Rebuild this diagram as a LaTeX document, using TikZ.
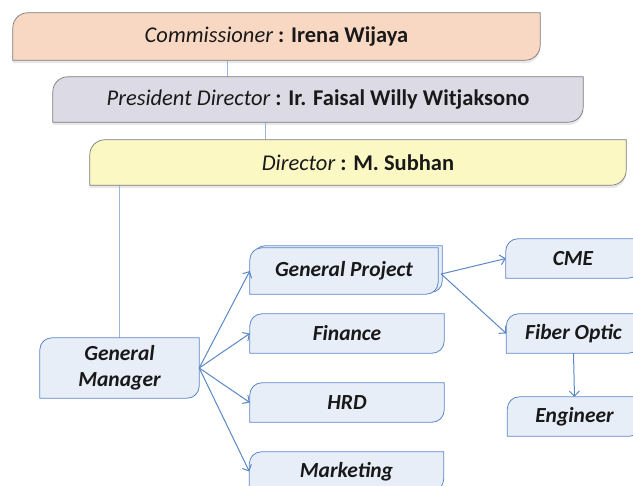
\documentclass[tikz,border=0pt]{standalone}
\usepackage{fontspec}
\setmainfont{Carlito}
\usetikzlibrary{arrows.meta,positioning,backgrounds}

\definecolor{commfill}{HTML}{F9D8C3}
\definecolor{presfill}{HTML}{DCDAE5}
\definecolor{dirfill}{HTML}{FBF8C4}
\definecolor{unitfill}{HTML}{E8EEF8}
\definecolor{unitline}{HTML}{5A87C6}
\definecolor{linkline}{HTML}{9BB7DD}
\definecolor{topline}{HTML}{7A7A7A}

\tikzset{
  headbox/.style={inner sep=0pt, font=\fontsize{22.5}{27}\selectfont, text=black!90},
  unitbox/.style={inner sep=0pt, align=center, font=\fontsize{21.5}{26.5}\selectfont\bfseries\itshape, text=black!90},
  link/.style={draw=linkline, line width=1pt},
  unitarrow/.style={draw=unitline, line width=1pt, -{Straight Barb[length=5pt,width=10pt]}}
}

% box with rounded top-left and bottom-right corners
\newcommand{\orgbox}[4]{%
  \path[#3, fill=#2] ([yshift=-#4]#1.north west) arc (180:90:#4) -- (#1.north east)
    -- ([yshift=#4]#1.south east) arc (0:-90:#4) -- (#1.south west) -- cycle;}

\begin{document}
\begin{tikzpicture}[x=1pt, y=-1pt]
\useasboundingbox (0,0) rectangle (633,486);

\node[headbox, minimum width=527pt, minimum height=47pt] (comm) at (276.5,36.5)
  {\itshape Commissioner \bfseries\upshape: Irena Wijaya};
\node[headbox, minimum width=530pt, minimum height=45pt] (pres) at (318,99.5)
  {\itshape President Director \bfseries\upshape: Ir. Faisal Willy Witjaksono};
\node[headbox, minimum width=536pt, minimum height=45pt] (dir) at (358,162.5)
  {\itshape Director \bfseries\upshape: M. Subhan};

\node[unitbox, minimum width=159pt, minimum height=60pt] (gm) at (119.5,368) {General\\Manager};
\node[unitbox, minimum width=188pt, minimum height=46pt] (gp) at (344,271) {General Project};
\node[unitbox, minimum width=194pt, minimum height=39pt] (fin) at (347,333.5) {Finance};
\node[unitbox, minimum width=194pt, minimum height=39pt] (hrd) at (347,402.5) {HRD};
\node[unitbox, minimum width=194pt, minimum height=39pt] (mkt) at (346.5,471.5) {Marketing};
\node[unitbox, minimum width=134pt, minimum height=39pt] (cme) at (573,258.5) {CME};
\node[unitbox, minimum width=134pt, minimum height=39pt] (fo) at (573.5,333.5) {Fiber Optic};
\node[unitbox, minimum width=134pt, minimum height=39pt] (eng) at (574.5,416.5) {Engineer};

\begin{scope}[on background layer]
  \begin{scope}[transform canvas={yshift=-3pt}]
    \orgbox{comm}{black!9}{draw=none}{15pt}
    \orgbox{pres}{black!9}{draw=none}{15pt}
    \orgbox{dir}{black!9}{draw=none}{15pt}
  \end{scope}
  \draw[link] ([xshift=-49.5pt]comm.south) -- ([xshift=-49.5pt]comm.south |- pres.north);
  \draw[link] ([xshift=-53pt]pres.south) -- ([xshift=-53pt]pres.south |- dir.north);
  \draw[link] (dir.south -| gm.north) -- (gm.north);
  \orgbox{comm}{commfill}{draw=topline, line width=0.7pt}{15pt}
  \orgbox{pres}{presfill}{draw=topline, line width=0.7pt}{15pt}
  \orgbox{dir}{dirfill}{draw=topline, line width=0.7pt}{15pt}
  \begin{scope}[transform canvas={xshift=4pt, yshift=2pt}]
    \orgbox{gp}{unitfill}{draw=unitline, line width=0.8pt}{11pt}
  \end{scope}
  \foreach \n in {gm,gp,fin,hrd,mkt,cme,fo,eng}
    \orgbox{\n}{unitfill}{draw=unitline, line width=0.8pt}{12pt};
\end{scope}

\draw[unitarrow] (gm.east) -- (gp.west);
\draw[unitarrow] (gm.east) -- (fin.west);
\draw[unitarrow] (gm.east) -- (hrd.west);
\draw[unitarrow] (gm.east) -- (mkt.west);
\draw[unitarrow] ([xshift=3pt,yshift=-3pt]gp.east) -- (cme.west);
\draw[unitarrow] ([xshift=3pt,yshift=-3pt]gp.east) -- (fo.west);
\draw[unitarrow] (fo.south) -- (eng.north);
\end{tikzpicture}
\end{document}
